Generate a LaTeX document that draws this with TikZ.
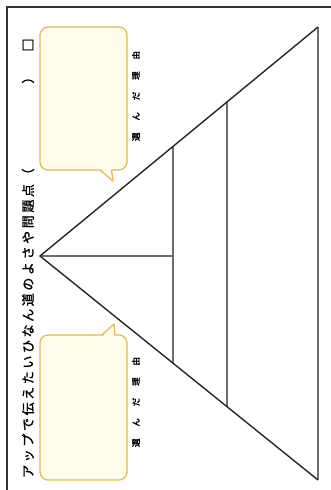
\documentclass[tikz,border=0pt]{standalone}
\usepackage{fontspec}
\newfontfamily\jp{Noto Sans CJK JP}[FakeBold=1.5]
\newfontfamily\jpsp{Noto Sans CJK JP}[LetterSpace=20,FakeBold=1.5]
\newfontfamily\jpwide{Noto Sans CJK JP}[LetterSpace=140,FakeBold=2.5]
\definecolor{gold}{HTML}{E2BC55}
\definecolor{cream}{HTML}{FFFCEC}
\definecolor{frameg}{HTML}{333333}
\definecolor{lineg}{HTML}{6E6E6E}
\begin{document}
\begin{tikzpicture}[x=1pt,y=-1pt,
  callbox/.style={draw=gold, line width=1.3pt, fill=cream, rounded corners=8pt, minimum width=87pt, minimum height=#1, inner sep=0pt},
  tailfill/.style={fill=cream},
  tailline/.style={draw=gold, line width=1.3pt, line join=round},
  tri/.style={draw=black!85, line width=1.4pt},
  inner/.style={draw=lineg, line width=1.4pt},
  vlabel/.style={rotate=90, inner sep=0pt, text=black}]
\useasboundingbox (0,0) rectangle (331,490);
% frame
\draw[frameg, line width=1.2pt] (7,490) -- (7,7) -- (331,7);
% triangle
\coordinate (apex) at (40,256);
\coordinate (tr) at (318,27);
\coordinate (br) at (318,480);
\coordinate (h1) at (173,256);
\coordinate (v1t) at (173,146.5);
\coordinate (v1b) at (173,363.2);
\coordinate (v2t) at (227,102);
\coordinate (v2b) at (227,406.7);
\draw[inner] (tr) -- (br);
\draw[inner] (apex) -- (h1);
\draw[inner] (v1t) -- (v1b);
\draw[inner] (v2t) -- (v2b);
\draw[tri, line join=miter] (br) -- (apex) -- (tr);
% callouts
\node[callbox=143pt] (boxtop) at (83.5,98.5) {};
\fill[tailfill] (100.5,168.3) -- (113,181) -- (111.5,168.3) -- cycle;
\draw[tailline] (100,170) -- (113,181) -- (111.5,170);
\node[callbox=145pt] (boxbot) at (83.5,407.5) {};
\fill[tailfill] (102.5,336.7) -- (114,324) -- (114.5,336.7) -- cycle;
\draw[tailline] (102,335) -- (114,324) -- (115,335);
% labels
\node[vlabel, anchor=west, font=\jpsp\fontsize{13}{13}\selectfont] (title) at (28,478) {アップで伝えたいひなん道のよさや問題点（};
\node[vlabel, font=\jp\fontsize{13}{13}\selectfont] (rparen) at (28,77) {）};
\node[vlabel, font=\jp\fontsize{13}{13}\selectfont] (check) at (28,45) {□};
\node[vlabel, font=\jpwide\fontsize{8.5}{8.5}\selectfont] (reasontop) at (136,96) {選んだ理由\hspace{-11.9pt}};
\node[vlabel, font=\jpwide\fontsize{8.5}{8.5}\selectfont] (reasonbot) at (136,402) {選んだ理由\hspace{-11.9pt}};
\end{tikzpicture}
\end{document}
